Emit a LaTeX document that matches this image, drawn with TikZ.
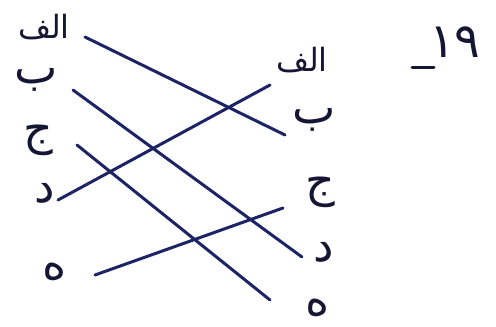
\documentclass[tikz,border=0pt]{standalone}
\usepackage{fontspec}
\newfontfamily\arabicfont[Script=Arabic]{DejaVu Sans}
\TeXXeTstate=1
\definecolor{ink}{HTML}{1C2466}
\definecolor{txt}{HTML}{141633}
\begin{document}
\begin{tikzpicture}[x=1pt,y=-1pt,
  lbl/.style={text=txt,inner sep=0pt,font=\arabicfont\fontsize{32}{36}\selectfont},
  big/.style={lbl,font=\arabicfont\fontsize{46}{50}\selectfont},
  conn/.style={draw=ink,line width=3pt,line cap=round}]
\useasboundingbox (0,0) rectangle (496,327);
\fill[white] (0,0) rectangle (496,327);
% left column
\node[lbl] (la) at (44,27) {\beginR الف\endR};
\node[big] (lb) at (36,80) {\beginR ب\endR};
\node[big] (lc) at (38,140) {\beginR ج\endR};
\node[big] (ld) at (45,193) {\beginR د\endR};
\node[big] (le) at (55,272) {\beginR ه\endR};
% right column
\node[lbl] (ra) at (302,60) {\beginR الف\endR};
\node[big] (rb) at (314,120) {\beginR ب\endR};
\node[big] (rc) at (320,192) {\beginR ج\endR};
\node[big] (rd) at (324,252) {\beginR د\endR};
\node[big] (re) at (318,308) {\beginR ه\endR};
% number
\node[lbl,font=\arabicfont\fontsize{48}{54}\selectfont] (num) at (455,42) {۱۹};
\coordinate (d1) at (412,67);
\coordinate (d2) at (434,67);
\draw[conn,draw=txt] (d1) -- (d2);
% connector ends
\coordinate (a1) at (85,37);  \coordinate (a2) at (285,135);
\coordinate (b1) at (73,90);  \coordinate (b2) at (302,257);
\coordinate (c1) at (77,145); \coordinate (c2) at (270,300);
\coordinate (e1) at (58,200); \coordinate (e2) at (270,85);
\coordinate (f1) at (95,275); \coordinate (f2) at (283,208);
\draw[conn] (a1) -- (a2);
\draw[conn] (b1) -- (b2);
\draw[conn] (c1) -- (c2);
\draw[conn] (e1) -- (e2);
\draw[conn] (f1) -- (f2);
\end{tikzpicture}
\end{document}
